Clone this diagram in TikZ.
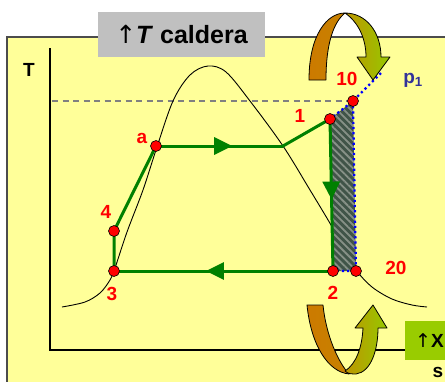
\documentclass[tikz,border=0pt]{standalone}
\usepackage{fontspec}
\setmainfont{Liberation Sans}
\newfontfamily\arrowfont{DejaVu Sans}
\usetikzlibrary{arrows.meta, decorations.markings, patterns.meta}

\definecolor{panelyellow}{RGB}{255,255,153}
\definecolor{cyclegreen}{RGB}{0,128,0}
\definecolor{tagGray}{RGB}{192,192,192}
\definecolor{tagGreen}{RGB}{153,204,0}
\definecolor{ptblue}{RGB}{51,51,153}
\definecolor{hatchdark}{RGB}{64,84,72}
\definecolor{hatchlight}{RGB}{135,145,135}
\definecolor{ribbonorange}{RGB}{204,122,0}
\definecolor{ribbonmid}{RGB}{190,150,0}
\definecolor{ribbongreen}{RGB}{150,200,0}

\newcommand{\uparr}{{\arrowfont\mdseries ↑}}

\begin{document}
\begin{tikzpicture}[x=1pt, y=-1pt,
    panel/.style={draw=gray!60!black, line width=1.2pt, fill=panelyellow},
    tagbox/.style={rectangle, inner sep=0pt, fill=tagGray,
                   minimum width=167pt, minimum height=45pt,
                   font=\bfseries\fontsize{25}{28}\selectfont},
    xbox/.style={rectangle, inner sep=0pt, fill=tagGreen,
                 minimum width=62pt, minimum height=39pt},
    axis/.style={line width=1.6pt, black},
    axlabel/.style={inner sep=0pt, font=\bfseries\fontsize{19}{22}\selectfont},
    bell/.style={line width=0.9pt, black},
    cycleline/.style={line width=3pt, cyclegreen, line cap=round, line join=round},
    midarrow/.style={postaction={decorate, decoration={markings,
        mark=at position #1 with {\arrow{Triangle[length=18pt,width=17pt]}}}}},
    isobar/.style={blue, line width=2.2pt, dash pattern=on 2.2pt off 3pt},
    dot/.style={circle, fill=red, draw=black, line width=0.6pt,
                minimum size=11pt, inner sep=0pt},
    lbl/.style={inner sep=0pt, red, font=\bfseries\fontsize{19}{22}\selectfont},
    ribbon/.style={draw=black, line width=0.8pt, line join=round}
  ]
    \useasboundingbox (0,0) rectangle (445,381);
    \clip (0,0) rectangle (445,381);

    % Panel and title
    \draw[panel] (7,37) rectangle (470,400);
    \node[tagbox] (title) at (181.5,34.5) {\uparr\textit{T} caldera};

    % Axes
    \coordinate (ytop) at (50,48);
    \coordinate (origin) at (50,350);
    \coordinate (xend) at (420,350);
    \draw[axis] (ytop) -- (origin) -- (xend);
    \node[axlabel] (tlabel) at (29,70) {T};

    % Cycle points
    \coordinate (c3) at (114,271);
    \coordinate (c4) at (114,231);
    \coordinate (ca) at (156,146);
    \coordinate (cx) at (283,146);
    \coordinate (c1) at (330,119);
    \coordinate (c10) at (353,101);
    \coordinate (c2) at (333,271);
    \coordinate (c20) at (356,271);
    \coordinate (dstart) at (52,101);
    \coordinate (pend) at (381,73);

    % Dashed level
    \draw[gray, line width=1.1pt, dash pattern=on 6pt off 4.5pt] (dstart) -- (c10);

    % Saturation dome
    \draw[bell] plot[smooth, tension=0.55] coordinates {
      (62,307) (85,302) (100,293) (110,280) (115,268) (127,232) (143,190)
      (156,150) (173,101) (190,75) (208,66) (226,72) (250,101) (283,146)
      (310,190) (331,225) (346,252) (356,270) (372,287) (392,299) (412,305) (427,307)};

    % Hatched area
    \path[preaction={fill=hatchdark}, pattern={Lines[angle=-45,distance=5pt,line width=1.8pt]},
          pattern color=hatchlight] (c1) -- (c10) -- (c20) -- (c2) -- cycle;

    % Isobar p1
    \draw[isobar] (pend) -- (c10) -- (c1);
    \draw[isobar] (c10) -- (c20) -- (c2);

    % Cycle
    \draw[cycleline] (c3) -- (c4) -- (ca);
    \draw[cycleline, midarrow=0.6] (ca) -- (cx);
    \draw[cycleline] (cx) -- (c1);
    \draw[cycleline, midarrow=0.53] (c1) -- (c2);
    \draw[cycleline, midarrow=0.58] (c2) -- (c3);

    % State points
    \node[dot] (n3) at (c3) {};
    \node[dot] (n4) at (c4) {};
    \node[dot] (na) at (ca) {};
    \node[dot] (n1) at (c1) {};
    \node[dot] (n10) at (c10) {};
    \node[dot] (n2) at (c2) {};
    \node[dot] (n20) at (c20) {};

    % Labels
    \node[lbl] (l3) at (112,294) {3};
    \node[lbl] (l4) at (106,212) {4};
    \node[lbl] (la) at (142,138) {a};
    \node[lbl] (l1) at (300,116) {1};
    \node[lbl] (l10) at (347,79) {10};
    \node[lbl] (l2) at (333,293) {2};
    \node[lbl] (l20) at (396,268) {20};
    \node[axlabel, ptblue] (lp1) at (413,80) {p\textsubscript{1}};

    % Upper ribbon arrow
    \shade[ribbon, left color=ribbonorange, right color=ribbonorange!90!ribbongreen]
      (309,80) .. controls (309,35) and (327,13) .. (345,13)
      .. controls (334,22) and (326,42) .. (326,80) -- cycle;
    \shade[ribbon, left color=ribbonmid, right color=ribbongreen]
      (345,13) .. controls (366,13) and (381,32) .. (381,57)
      -- (390,57) -- (373,80) -- (357,57) -- (366,57)
      .. controls (366,38) and (358,22) .. (345,13) -- cycle;

    % Lower ribbon arrow
    \shade[ribbon, left color=ribbonorange, right color=ribbonorange!90!ribbongreen]
      (307,305) .. controls (311,345) and (328,372) .. (349,374)
      .. controls (338,362) and (326,335) .. (323,305) -- cycle;
    \shade[ribbon, left color=ribbonmid, right color=ribbongreen]
      (345,371) .. controls (348,374) and (352,374) .. (356,374)
      .. controls (371,372) and (378,350) .. (378,328)
      -- (387,328) -- (373,305) -- (355,328) -- (363,328)
      .. controls (362,348) and (356,364) .. (345,371) -- cycle;

    % Quality tag and axis name
    \node[xbox] (xtag) at (436,340.5) {};
    \node[axlabel, anchor=east] (xlabel) at (444,340.5) {\uparr X};
    \node[axlabel] (slabel) at (438,372) {s};
\end{tikzpicture}
\end{document}
